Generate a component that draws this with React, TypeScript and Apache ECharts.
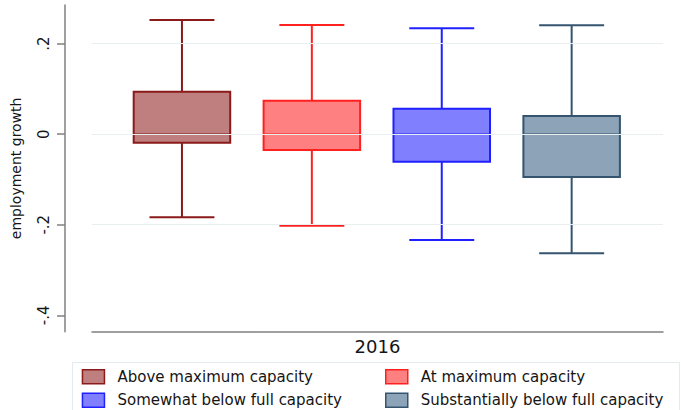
import React, { useEffect, useRef } from "react";
import * as echarts from "echarts";

// ---- data ----
const GROUPS = [
  "Above maximum capacity",
  "At maximum capacity",
  "Somewhat below full capacity",
  "Substantially below full capacity",
];
const YEAR = ["2016"];
const WHISKER_LOW = [-0.1835, -0.202, -0.2337, -0.263];
const Q1 = [-0.0188, -0.035, -0.0607, -0.0945];
const MEDIAN = [0, 0, 0, 0];
const Q3 = [0.0939, 0.074, 0.0563, 0.0402];
const WHISKER_HIGH = [0.2522, 0.241, 0.234, 0.2405];
const Y_TICKS = [-0.4, -0.2, 0, 0.2];
const GRID_VALUES = [0.2, 0, -0.2];
const Y_MIN = -0.4362;
const Y_MAX = 0.2853;

// ---- styles ----
const FILLS = ["#bf7f7f", "#ff8080", "#8080ff", "#8da3b7"];
const STROKES = ["#8b1a1a", "#ff2020", "#2020ff", "#34546f"];
const FONT = "DejaVu Sans";
const AXIS_GRAY = "#808080";
const TEXT = "#151515";

function fmtTick(v: number): string {
  if (Math.abs(v) < 1e-9) return "0";
  return v.toFixed(1).replace(/^(-?)0\./, "$1.");
}

function makeRender(i: number) {
  return (params: any, api: any) => {
    const x = api.value(0);
    const lo = api.coord([x, api.value(1)]);
    const q1 = api.coord([x, api.value(2)]);
    const md = api.coord([x, api.value(3)]);
    const q3 = api.coord([x, api.value(4)]);
    const hi = api.coord([x, api.value(5)]);
    const band = api.size([1, 0])[0];
    const bw = band * 0.743;
    const cw = band * 0.5;
    const cx = md[0];
    const lineStyle = { stroke: STROKES[i], lineWidth: 2 };
    return {
      type: "group",
      children: [
        { type: "line", shape: { x1: cx, y1: q3[1], x2: cx, y2: hi[1] }, style: lineStyle },
        { type: "line", shape: { x1: cx, y1: q1[1], x2: cx, y2: lo[1] }, style: lineStyle },
        { type: "line", shape: { x1: cx - cw / 2, y1: hi[1], x2: cx + cw / 2, y2: hi[1] }, style: lineStyle },
        { type: "line", shape: { x1: cx - cw / 2, y1: lo[1], x2: cx + cw / 2, y2: lo[1] }, style: lineStyle },
        {
          type: "rect",
          shape: { x: cx - bw / 2, y: q3[1], width: bw, height: q1[1] - q3[1] },
          style: { fill: FILLS[i], stroke: STROKES[i], lineWidth: 2 },
        },
        { type: "line", shape: { x1: cx - bw / 2, y1: md[1], x2: cx + bw / 2, y2: md[1] }, style: { stroke: STROKES[i], lineWidth: 1.5 } },
      ],
    };
  };
}

function legendItem(i: number) {
  return {
    name: GROUPS[i],
    itemStyle: { color: FILLS[i], borderColor: STROKES[i], borderWidth: 1.5 },
  };
}

export default function App() {
  const ref = useRef<HTMLDivElement>(null);

  useEffect(() => {
    if (!ref.current) return;
    const chart = echarts.init(ref.current, null, { renderer: "svg" });

    const boxSeries = GROUPS.map((g, i) => ({
      type: "custom",
      name: g,
      xAxisIndex: 1,
      yAxisIndex: 1,
      renderItem: makeRender(i),
      itemStyle: { color: FILLS[i] },
      encode: { x: 0, y: [1, 2, 3, 4, 5] },
      data: [[i, WHISKER_LOW[i], Q1[i], MEDIAN[i], Q3[i], WHISKER_HIGH[i]]],
      silent: true,
      z: 3,
    }));

    const legendCommon = {
      orient: "vertical",
      top: 369,
      padding: 0,
      itemWidth: 22,
      itemHeight: 14,
      itemGap: 8,
      icon: "rect",
      selectedMode: false,
      textStyle: { fontFamily: FONT, fontSize: 15, color: TEXT, padding: [0, 0, 0, 8] },
    };

    chart.setOption({
      animation: false,
      backgroundColor: "#ffffff",
      textStyle: { fontFamily: FONT },
      grid: [
        { left: 92, right: 18, top: 5, bottom: 78.3 },
        { left: 117, right: 44.4, top: 5, bottom: 78.3 },
      ],
      xAxis: [
        {
          type: "category",
          gridIndex: 0,
          data: YEAR,
          axisLine: { show: true, onZero: false, lineStyle: { color: AXIS_GRAY, width: 1.5 } },
          axisTick: { show: false },
          axisLabel: { fontFamily: FONT, fontSize: 18, color: TEXT, margin: 6 },
          splitLine: { show: false },
        },
        {
          type: "category",
          gridIndex: 1,
          data: GROUPS,
          show: false,
          axisLine: { onZero: false },
        },
      ],
      yAxis: [
        {
          type: "value",
          gridIndex: 0,
          min: Y_MIN,
          max: Y_MAX,
          offset: 27,
          name: "employment growth",
          nameLocation: "middle",
          nameRotate: 90,
          nameGap: 42,
          nameTextStyle: { fontFamily: FONT, fontSize: 14, color: TEXT },
          axisLine: { show: true, onZero: false, lineStyle: { color: AXIS_GRAY, width: 1.5 } },
          axisTick: { show: true, length: 8, customValues: Y_TICKS, lineStyle: { color: AXIS_GRAY, width: 1.5 } },
          axisLabel: {
            customValues: Y_TICKS,
            rotate: 90,
            margin: 14,
            fontFamily: FONT,
            fontSize: 15,
            color: TEXT,
            formatter: (v: number) => fmtTick(v),
          },
          splitLine: { show: false },
        },
        {
          type: "value",
          gridIndex: 1,
          min: Y_MIN,
          max: Y_MAX,
          show: false,
          splitLine: { show: false },
        },
      ],
      legend: [
        { ...legendCommon, left: 81.7, data: [legendItem(0), legendItem(2)] },
        { ...legendCommon, left: 385, data: [legendItem(1), legendItem(3)] },
      ],
      graphic: [
        {
          type: "rect",
          shape: { x: 72.5, y: 362.5, width: 607, height: 60 },
          style: { fill: "none", stroke: "#e2ebee", lineWidth: 1 },
          silent: true,
          z: 0,
        },
      ],
      series: [
        {
          type: "line",
          name: "grid",
          xAxisIndex: 0,
          yAxisIndex: 0,
          data: [],
          silent: true,
          markLine: {
            silent: true,
            symbol: "none",
            label: { show: false },
            lineStyle: { color: "#e8eff0", width: 1, type: "solid" },
            data: GRID_VALUES.map((v) => ({ yAxis: v })),
          },
          z: 1,
        },
        ...boxSeries,
      ],
    });

    return () => chart.dispose();
  }, []);

  return (
    <div
      ref={ref}
      style={{ position: "fixed", left: 0, top: 0, width: 681, height: 410, background: "#fff" }}
    />
  );
}
